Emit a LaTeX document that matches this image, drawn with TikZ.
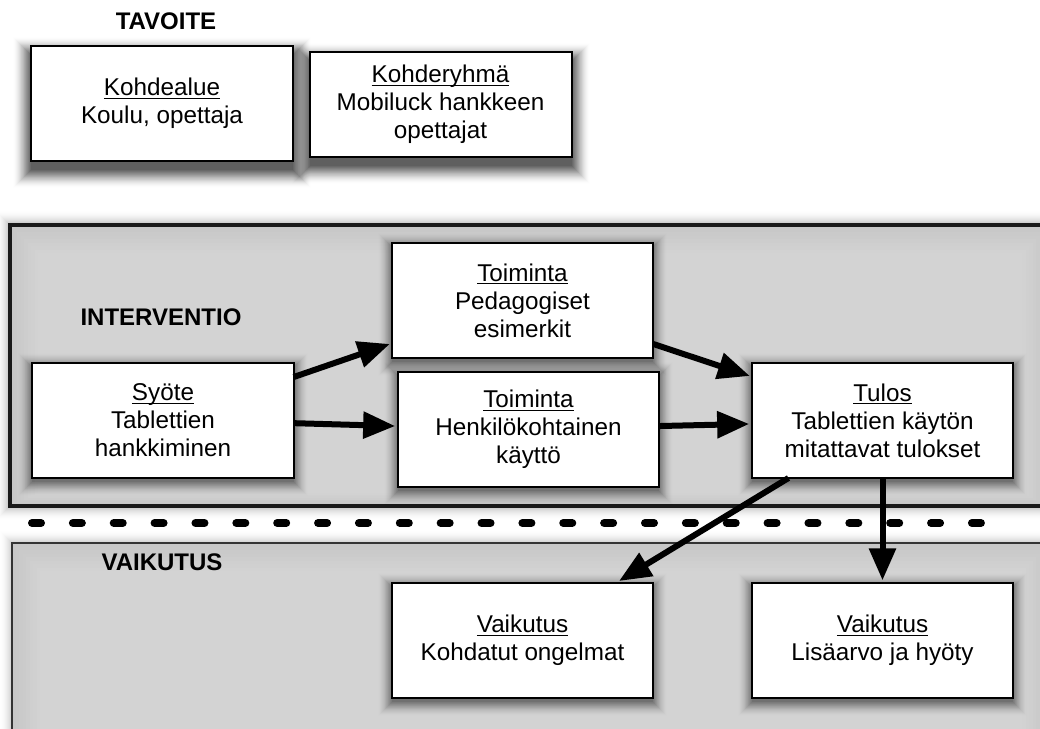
\documentclass[tikz,border=0pt]{standalone}
\usepackage{fontspec}
\setmainfont{Liberation Sans}
\usetikzlibrary{arrows.meta}

\pgfdeclarelayer{back}
\pgfdeclarelayer{mid}
\pgfsetlayers{back,mid,main}

% underlined first line of a box
\newcommand\boxtitle[1]{\sbox0{#1}\rlap{\rule[-2.3pt]{\wd0}{0.95pt}}\usebox0}

% soft drop shadow under a node: node, downward shift, spread, peak opacity per step
\newcommand\softshadow[4]{%
  \begin{pgfonlayer}{mid}
    \foreach \k in {0,...,#3}{
      \pgfmathsetmacro\op{#4*(1-\k/(#3+1))}
      \fill[black, fill opacity=\op]
        ([shift={(-\k,#2-\k)}]#1.north west) rectangle ([shift={(\k,#2+\k)}]#1.south east);
    }
  \end{pgfonlayer}}

\tikzset{
  basebox/.style={draw=black, line width=1.5pt, fill=white, align=center,
    inner sep=0pt, outer sep=0pt, font=\fontsize{18.2}{21}\selectfont},
  box/.style={basebox, minimum width=196pt, minimum height=86.25pt},
  topbox/.style={basebox, minimum width=196.5pt},
  heading/.style={font=\bfseries\fontsize{18}{21}\selectfont, inner sep=0pt},
  flow/.style={line width=4.5pt, -{Triangle[length=24pt,width=19.5pt]}},
  separator/.style={line width=6pt, line cap=round, dash pattern=on 6.75pt off 23.9pt},
}

\begin{document}
\begin{tikzpicture}[x=0.75pt, y=-0.75pt]
\useasboundingbox (0,0) rectangle (1040,729);

\begin{pgfonlayer}{back}
\fill[white] (0,0) rectangle (1040,729);

% intervention panel
\foreach \k in {1,...,14}{
  \pgfmathsetmacro\op{0.035*(1-\k/15)}
  \fill[black, fill opacity=\op] (10-\k,225-\k) rectangle (1050+\k,506+\k);
}
\fill[black!22] (10,225) rectangle (1050,506);
\foreach \i in {1,...,8}{
  \pgfmathsetmacro\shade{22-0.6*\i}
  \fill[black!\shade] (10+3.5*\i,225+3.5*\i) rectangle (1050-3.5*\i,506-1.6*\i);
}
\draw[line width=2.5pt, draw=black!90] (10,225) rectangle (1050,506);

% impact panel
\foreach \k in {1,...,12}{
  \pgfmathsetmacro\op{0.03*(1-\k/13)}
  \fill[black, fill opacity=\op] (12-\k,543-\k) rectangle (1050+\k,745);
}
\fill[black!22] (12,543) rectangle (1050,745);
\foreach \i in {1,...,8}{
  \pgfmathsetmacro\shade{22-0.6*\i}
  \fill[black!\shade] (12+3.5*\i,543+3.5*\i) rectangle (1050-3.5*\i,745);
}
\draw[line width=1.2pt, draw=black!80] (12,745) -- (12,543) -- (1050,543);
\end{pgfonlayer}

% separator between intervention and impact
\coordinate (sepL) at (32,523);
\coordinate (sepR) at (981,523);
\draw[separator] (sepL) -- (sepR);

% headings
\node[heading] (tavoite) at (166,21) {TAVOITE};
\node[heading] (interventio) at (161,317) {INTERVENTIO};
\node[heading] (vaikutus) at (162,562) {VAIKUTUS};

% goal boxes
\node[topbox, minimum height=86.25pt] (kohdealue) at (162,103.5)
  {\boxtitle{Kohdealue}\\Koulu, opettaja};
\node[topbox, minimum height=78.75pt] (kohderyhma) at (440.5,104.5)
  {\boxtitle{Kohderyhmä}\\Mobiluck hankkeen\\opettajat};

% intervention boxes
\node[box] (syote) at (163,420.5) {\boxtitle{Syöte}\\Tablettien\\hankkiminen};
\node[box] (toim1) at (522.5,300.5) {\boxtitle{Toiminta}\\Pedagogiset\\esimerkit};
\node[box] (toim2) at (528.5,429.5) {\boxtitle{Toiminta}\\Henkilökohtainen\\käyttö};
\node[box] (tulos) at (882.5,420.5) {\boxtitle{Tulos}\\Tablettien käytön\\mitattavat tulokset};

% impact boxes
\node[box] (vaik1) at (522.5,640.5) {\boxtitle{Vaikutus}\\Kohdatut ongelmat};
\node[box] (vaik2) at (882.5,640.5) {\boxtitle{Vaikutus}\\Lisäarvo ja hyöty};

% shadows beneath the boxes
\softshadow{kohdealue}{9}{18}{0.09}
\softshadow{kohderyhma}{9}{18}{0.09}
\foreach \n in {syote,toim1,toim2,tulos,vaik1,vaik2}{
  \softshadow{\n}{4}{14}{0.07}
}

% connectors
\draw[flow] ([yshift=32.6pt]syote.east) -- ([xshift=-1.5pt,yshift=-32.6pt]toim1.west);
\draw[flow] ([yshift=-2pt]syote.east) -- ([xshift=-2pt,yshift=2.6pt]toim2.west);
\draw[flow] ([yshift=-32.6pt]toim1.east) -- ([xshift=-1.5pt,yshift=33.4pt]tulos.west);
\draw[flow] ([yshift=2.6pt]toim2.east) -- ([xshift=-2pt,yshift=-2.6pt]tulos.west);
\draw[flow] ([xshift=-70.5pt]tulos.south) -- ([xshift=72.4pt,yshift=1.5pt]vaik1.north);
\draw[flow] (tulos.south) -- ([yshift=2pt]vaik2.north);
\end{tikzpicture}
\end{document}
